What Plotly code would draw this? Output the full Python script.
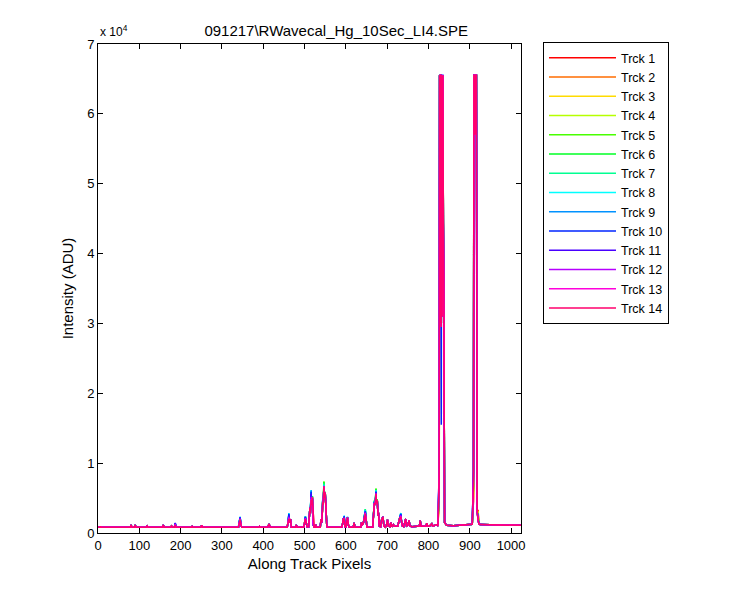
import plotly.graph_objects as go

# ---- shared spectrum vertices (baseline + minor lines), along-track pixel / ADU
pixel = [0, 5, 6, 7, 78, 80, 82, 88, 90, 92, 117, 119, 121, 156, 158, 160, 176, 178, 180,
         185, 189, 226, 228, 230, 249, 251, 253, 340, 342, 346, 348, 389, 391, 393, 399, 401, 403,
         411, 414, 417, 458, 460, 464, 466, 468, 478, 480, 482, 498, 500, 504, 506, 510, 513, 514,
         517, 521, 523, 526, 527, 528, 538, 540, 542, 545, 548, 552, 554, 556, 590, 592, 594, 595,
         598, 601, 602, 606, 608, 618, 620, 622, 636, 638, 640, 642, 644, 649, 651, 665, 667, 671,
         674, 678, 679, 681, 684, 687, 692, 695, 698, 701, 703, 707, 709, 711, 715, 717, 720, 726,
         728, 730, 735, 737, 740, 743, 745, 747, 750, 753, 755, 760, 765, 770, 778, 780, 782, 786,
         794, 796, 798, 803, 806, 808, 810, 814, 818, 821, 823, 827, 828, 829, 830, 832, 833, 834,
         835, 839, 841, 844, 860, 880, 898, 901, 906, 910, 912, 913, 914, 916, 918, 922, 925, 950,
         955, 1024]
counts = [830, 830, 950, 830, 830, 1140, 830, 830, 1140, 830, 830, 1000, 830, 830, 1140, 830, 830, 1000, 830,
          830, 830, 830, 950, 830, 830, 1100, 830, 830, 1500, 1200, 830, 830, 950, 830, 830, 900, 830,
          830, 1290, 830, 830, 1400, 1500, 2000, 830, 830, 1150, 830, 830, 1300, 1500, 900, 900, 3600, 2800,
          4000, 1200, 830, 830, 1200, 830, 830, 2000, 1500, 4000, 5000, 3500, 900, 830, 830, 1300, 2100, 1500,
          900, 900, 1700, 1200, 830, 830, 1430, 830, 830, 1530, 1200, 1300, 1900, 2000, 830, 830, 3300, 4000,
          4200, 2500, 2900, 1000, 900, 2000, 1000, 830, 1000, 1900, 1000, 900, 1500, 900, 1200, 1000, 950, 1000,
          1600, 2100, 1500, 1000, 900, 1600, 2000, 1000, 1100, 1800, 1000, 900, 950, 900, 1000, 1760, 1000, 950,
          1000, 1400, 1000, 1000, 1200, 1300, 1000, 1050, 1100, 1200, 1000, 65535, 30000, 65535, 65535, 65535, 31000, 65535,
          65535, 1500, 1300, 1100, 1050, 1100, 1150, 1200, 1250, 65535, 65535, 57000, 65535, 65535, 3000, 1300, 1200, 1200,
          1100, 1100]

# ---- track-dependent line heights (ADU) at these pixels
major_px = [187, 344, 462, 502, 516, 519, 544, 547, 550, 596, 604, 647, 669, 673, 676, 690, 733,
            826, 831, 836, 837, 909, 917, 920]
trck1 = [1100, 1800, 2100, 2000, 4800, 4900, 4200, 6500, 5500, 2000, 2000, 2700, 4200, 5400, 4600, 2100, 2200,
         5000, 29500, 44800, 37000, 4500, 40000, 3340]
trck2 = [1100, 1850, 2200, 2050, 5000, 5000, 4300, 6700, 5600, 2050, 2050, 2800, 4300, 5600, 4700, 2150, 2300,
         5600, 29500, 45000, 37000, 5000, 42000, 3200]
trck3 = [1150, 1900, 2300, 2100, 5200, 5100, 4400, 6900, 5700, 2100, 2100, 2900, 4400, 5800, 4800, 2200, 2400,
         6100, 29500, 44600, 37000, 5500, 45000, 3000]
trck4 = [1150, 2000, 2400, 2200, 5400, 5200, 4500, 7100, 5800, 2150, 2150, 3000, 4500, 6000, 4870, 2250, 2500,
         6600, 29500, 44500, 37000, 6000, 43000, 2800]
trck5 = [1200, 2100, 2500, 2300, 5600, 5300, 4600, 7390, 5900, 2200, 2200, 3200, 4600, 6390, 4800, 2300, 2600,
         7100, 29500, 44400, 37000, 6500, 40000, 2600]
trck6 = [1250, 2200, 2600, 2350, 5800, 5300, 4700, 7300, 5900, 2300, 2240, 3430, 4630, 6300, 4800, 2390, 2700,
         7600, 29500, 44300, 37000, 7000, 38000, 2400]
trck7 = [1300, 2250, 2700, 2400, 6000, 5200, 4870, 7100, 5800, 2400, 2240, 3400, 4600, 6200, 4700, 2350, 2800,
         8100, 29500, 44300, 37000, 7500, 37000, 2300]
trck8 = [1350, 2300, 2860, 2400, 6150, 5100, 4800, 6900, 5800, 2480, 2300, 3300, 4500, 6100, 4700, 2300, 2860,
         8600, 29500, 44200, 37000, 8000, 36000, 2200]
trck9 = [1400, 2300, 2800, 2350, 6100, 5000, 4700, 6800, 5800, 2450, 2300, 3200, 4500, 6000, 4700, 2300, 2800,
         9100, 29500, 44200, 37000, 8500, 36000, 2100]
trck10 = [1430, 2250, 2700, 2300, 5900, 4900, 4600, 6700, 5800, 2400, 2250, 3100, 4400, 5900, 4700, 2300, 2700,
          9500, 15500, 44200, 37000, 9100, 35000, 2000]
trck11 = [1400, 2150, 2500, 2200, 5600, 5000, 4500, 6600, 5800, 2300, 2200, 3000, 4400, 5800, 4700, 2300, 2600,
          9800, 29500, 44400, 37000, 8800, 33000, 2000]
trck12 = [1300, 2050, 2300, 2100, 5200, 5100, 4400, 6600, 5800, 2200, 2200, 2900, 4300, 5700, 4700, 2300, 2500,
          9400, 29500, 44500, 37000, 8200, 31000, 1900]
trck13 = [1200, 1950, 2100, 2050, 4900, 5100, 4400, 6700, 5800, 2150, 2200, 2800, 4300, 5600, 4700, 2300, 2400,
          8500, 29500, 44600, 37000, 7500, 30000, 1900]
trck14 = [1140, 1900, 2000, 2000, 4700, 5100, 4400, 6700, 5800, 2100, 2200, 2720, 4300, 5600, 4700, 2300, 2300,
          7500, 29500, 44800, 37000, 6800, 29000, 1900]

track_names = ["Trck %d" % i for i in range(1, 15)]
track_values = [trck1, trck2, trck3, trck4, trck5, trck6, trck7, trck8, trck9, trck10,
                trck11, trck12, trck13, trck14]
track_colors = ["#FF0000", "#FF6D00", "#FFDB00", "#B6FF00", "#49FF00", "#00FF24", "#00FF92",
                "#00FFFF", "#0092FF", "#0024FF", "#4900FF", "#B600FF", "#FF00DB", "#FF006D"]

y_ticks = [0, 10000, 20000, 30000, 40000, 50000, 60000, 70000]
y_ticktext = ["0", "1", "2", "3", "4", "5", "6", "7"]
x_ticks = [0, 100, 200, 300, 400, 500, 600, 700, 800, 900, 1000]

FONT = "Liberation Sans, Arial, sans-serif"

fig = go.Figure()
for name, vals, col in zip(track_names, track_values, track_colors):
    pts = sorted(list(zip(pixel, counts)) + list(zip(major_px, vals)))
    fig.add_trace(go.Scatter(
        x=[p[0] for p in pts], y=[p[1] for p in pts], mode="lines", name=name,
        line=dict(color=col, width=1.5)))

axis_common = dict(showline=True, linecolor="black", linewidth=1, mirror="ticks",
                   ticks="inside", ticklen=5, tickcolor="black", showgrid=False,
                   zeroline=False, automargin=False,
                   tickfont=dict(family=FONT, size=13, color="black"))

fig.update_layout(
    width=742, height=592,
    paper_bgcolor="white", plot_bgcolor="white",
    margin=dict(l=90, r=229, t=36, b=67, autoexpand=False),
    font=dict(family=FONT, size=15, color="black"),
    showlegend=True,
    legend=dict(x=1.052, y=1.004, xanchor="left", yanchor="top",
                bordercolor="black", borderwidth=1, bgcolor="white",
                font=dict(family=FONT, size=12.5, color="black"),
                tracegroupgap=0, itemwidth=67),
    title=dict(text="091217\\RWavecal_Hg_10Sec_LI4.SPE", x=0.563, xref="paper",
               xanchor="center", y=1 - 23 / 592, yanchor="middle",
               font=dict(family=FONT, size=15, color="black")),
    xaxis=dict(range=[0, 1024], tickvals=x_ticks,
               title=dict(text="Along Track Pixels", font=dict(family=FONT, size=15), standoff=6),
               **axis_common),
    yaxis=dict(range=[0, 70000], tickvals=y_ticks, ticktext=y_ticktext,
               title=dict(text="Intensity (ADU)", font=dict(family=FONT, size=15), standoff=9),
               **axis_common),
    annotations=[dict(text="x 10<sup>4</sup>", xref="paper", yref="paper", x=0.0, y=1.026,
                      xanchor="left", yanchor="middle", showarrow=False,
                      font=dict(family=FONT, size=12, color="black"))],
)

fig.write_html("out.html")
